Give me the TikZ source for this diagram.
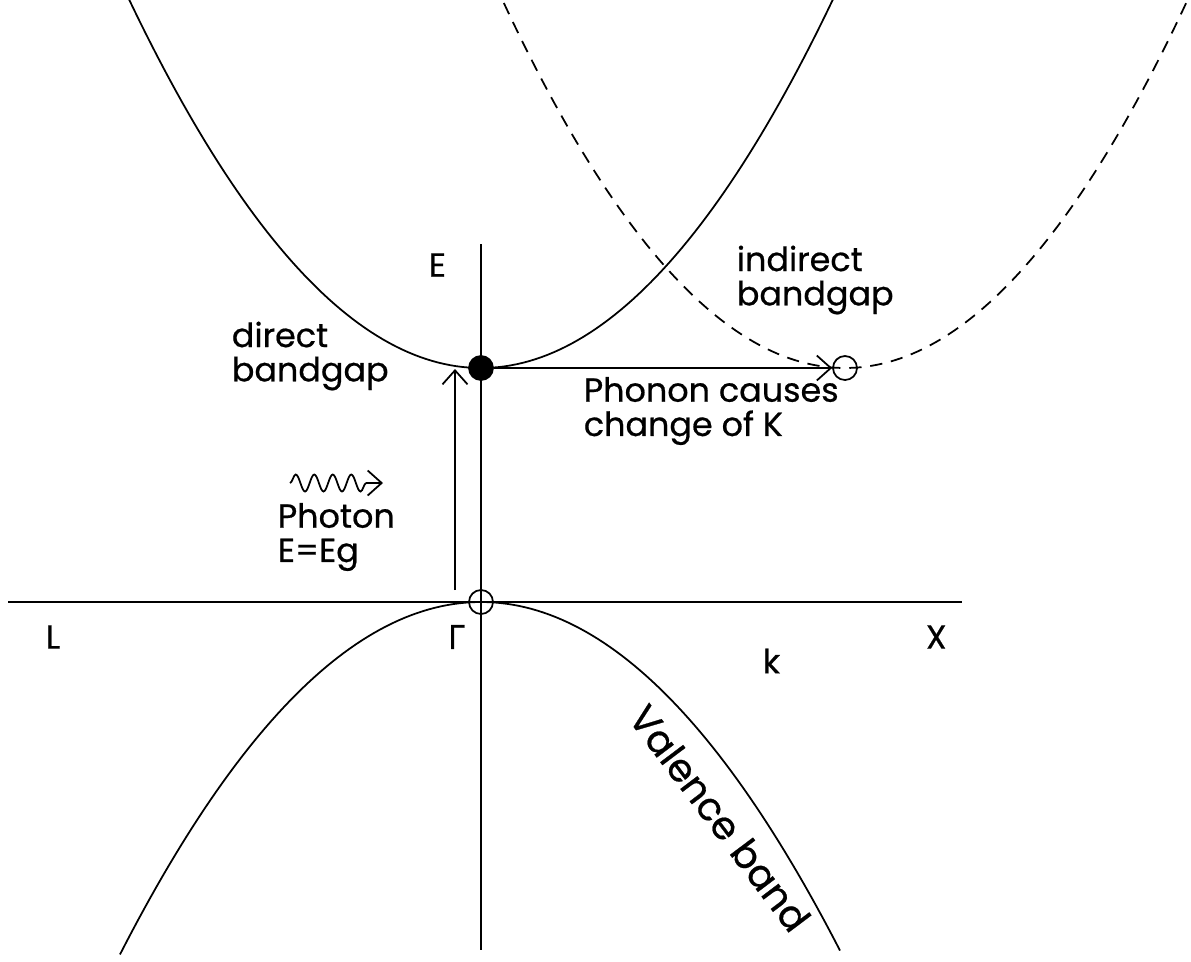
\documentclass[tikz,border=0pt]{standalone}
\usepackage{fontspec}
\setmainfont{Poppins}[FakeBold=0.6]
\newfontfamily\grk{Open Sans}[FakeBold=0.6]
\usetikzlibrary{arrows.meta,decorations.pathmorphing}
\begin{document}
\begin{tikzpicture}[x=0.02cm,y=-0.02cm,
  line width=1pt,
  band/.style={line width=1pt},
  lbl/.style={font=\fontsize{19}{19.5}\selectfont, align=left, inner sep=0pt},
  tip/.style={-{Straight Barb[length=0.28cm,width=0.5cm,line width=1pt]}},
  dot/.style={circle, draw, minimum size=0.48cm, inner sep=0pt, line width=1pt}]
\useasboundingbox (0,0) rectangle (1191,961);
\begin{scope}
\clip (0,0) rectangle (1191,961);
% axes
\draw (481,244) -- (481,950);
\draw (8,602) -- (962,602);
% conduction band (direct)
\draw[band] plot[domain=115:840, samples=120] (\x, {368-((\x-481)*0.05455)^2});
% indirect band (dashed)
\draw[band, dash pattern=on 7pt off 5pt] plot[domain=495:1195, samples=120] (\x, {368-((\x-845)*0.0560)^2});
% valence band
\draw[band] plot[domain=120:840, samples=120] (\x, {602+((\x-481)*0.05200)^2});
\end{scope}
% points
\node[dot, fill=black] (cmin) at (481,368) {};
\node[dot] (imin) at (845,368) {};
\node[dot] (vmax) at (481,602) {};
% transitions
\coordinate (vstart) at (455,590);
\coordinate (vend) at (455,369);
\draw[tip] (vstart) -- (vend);
\draw[tip] (cmin.east) -- (imin.west);
% photon
\coordinate (ph1) at (290,483);
\coordinate (ph2) at (383,483);
\draw[tip, decorate, decoration={snake, amplitude=0.17cm, segment length=0.37cm, post=lineto, post length=0.2cm}] (ph1) -- (ph2);
% labels
\node[lbl, anchor=west] (Elbl) at (428,265) {E};
\node[lbl, anchor=west] (ind) at (736,280) {indirect\\bandgap};
\node[lbl, anchor=west] (dir) at (231,356) {direct\\bandgap};
\node[lbl, anchor=west] (phon) at (583,411) {Phonon causes\\change of K};
\node[lbl, anchor=west] (phot) at (277,537) {Photon\\E=Eg};
\node[lbl, anchor=west] (L) at (45,637) {L};
\node[lbl, anchor=west] (G) at (447,637) {\grk Γ};
\node[lbl, anchor=west] (k) at (762,661) {k};
\node[lbl, anchor=west] (X) at (925,637) {X};
\node[lbl, font=\fontsize{22}{24}\selectfont, rotate=-53] (vb) at (720,818) {Valence band};
\end{tikzpicture}
\end{document}
